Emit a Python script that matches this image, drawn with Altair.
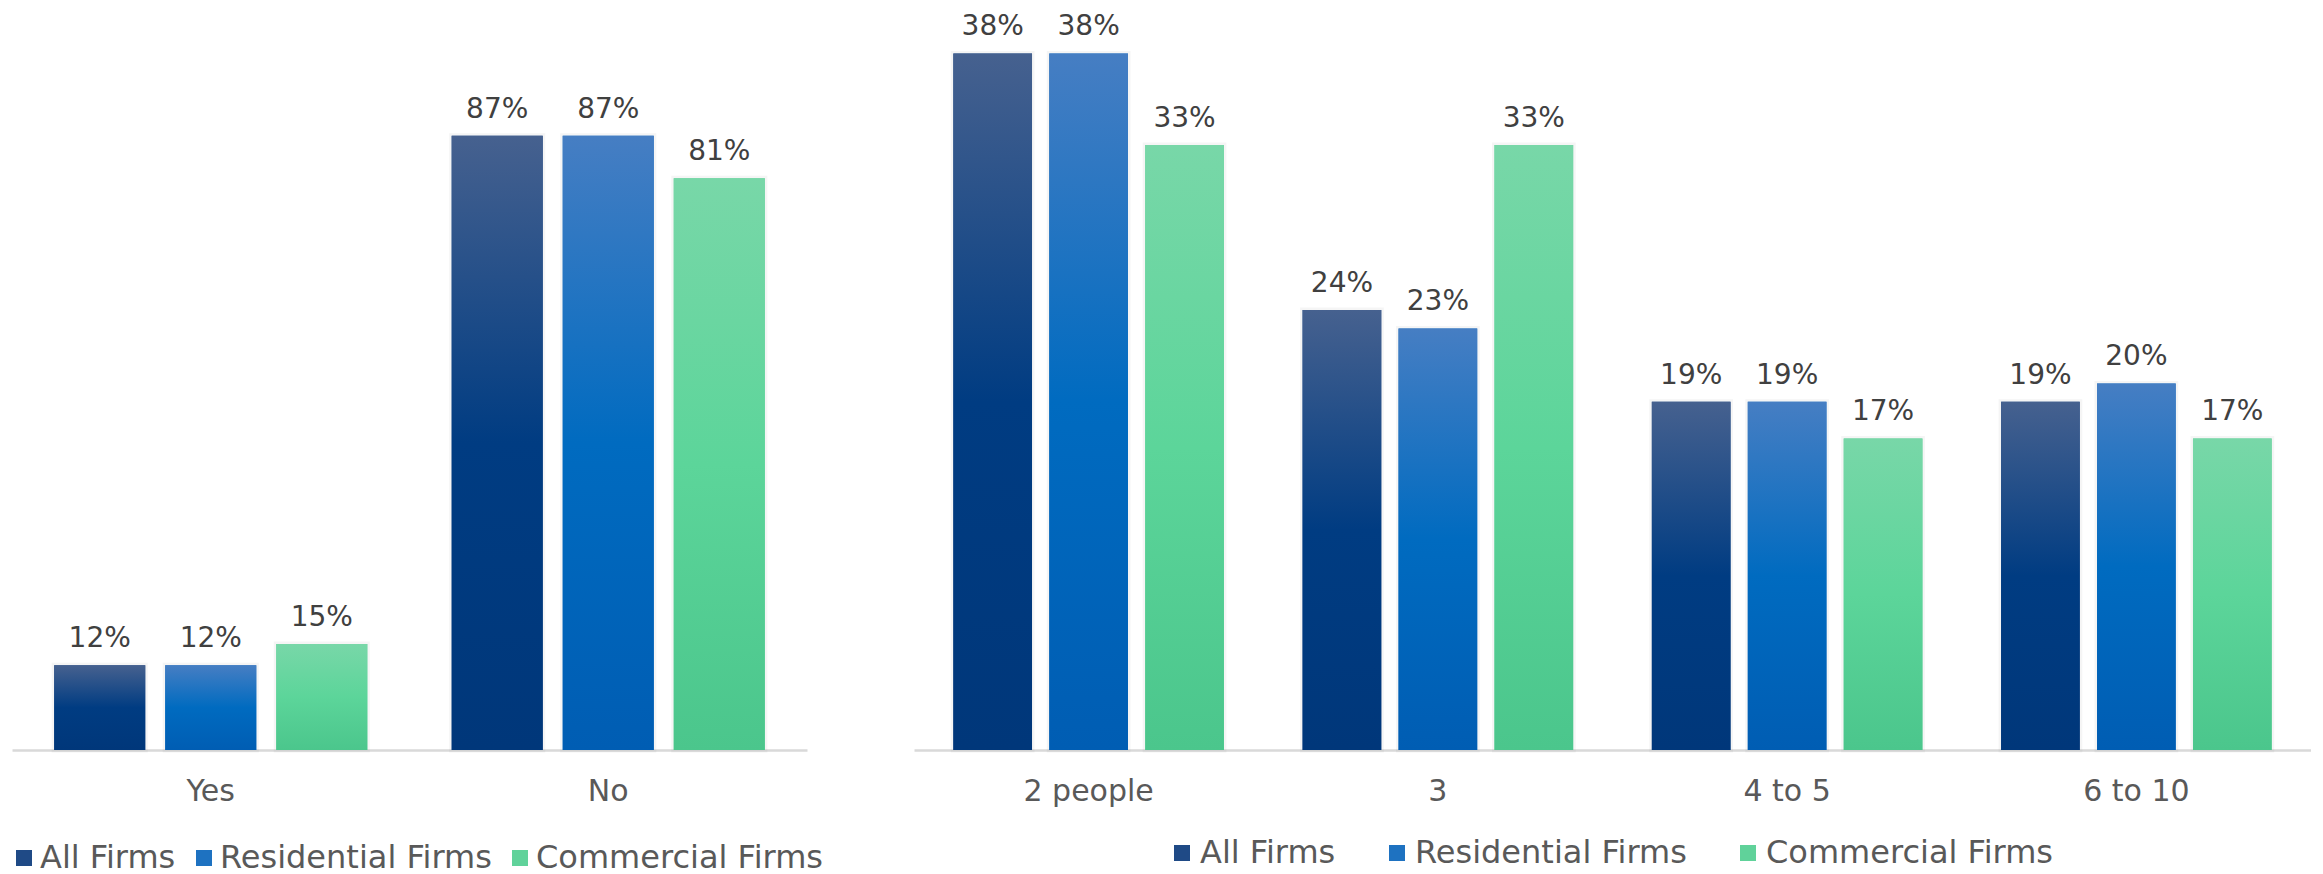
import altair as alt
import pandas as pd

# ---------------- data ----------------
series = ["All Firms", "Residential Firms", "Commercial Firms"]

left_categories = ["Yes", "No"]
left_all = [12, 87]
left_res = [12, 87]
left_com = [15, 81]

right_categories = ["2 people", "3", "4 to 5", "6 to 10"]
right_all = [38, 24, 19, 19]
right_res = [38, 23, 19, 20]
right_com = [33, 33, 17, 17]

# ---------------- styles ----------------
FONT = "DejaVu Sans"
solid_colors = ["#1F4A86", "#1E72C1", "#60D29A"]
gradient_stops = {
    "All Firms": [("#46618F", 0.0), ("#003C82", 0.5), ("#00377A", 1.0)],
    "Residential Firms": [("#467EC3", 0.0), ("#006BC0", 0.5), ("#005DB3", 1.0)],
    "Commercial Firms": [("#78D7A8", 0.0), ("#5CD59A", 0.5), ("#4BC68C", 1.0)],
}


def make_df(cats, vals_list):
    rows = []
    for s, vals in zip(series, vals_list):
        for c, v in zip(cats, vals):
            rows.append({"category": c, "series": s, "value": v, "label": f"{v}%"})
    return pd.DataFrame(rows)


def panel(df, cats, width, height, ymax, pad_outer, legend_x, legend_y,
          label_offset, col_pad):
    base = alt.Chart(df).encode(
        x=alt.X(
            "category:N",
            sort=cats,
            scale=alt.Scale(paddingInner=0, paddingOuter=0),
            axis=alt.Axis(
                title=None,
                labelAngle=0,
                ticks=False,
                tickSize=0,
                domainColor="#D9D9D9",
                domainWidth=2.5,
                labelFont=FONT,
                labelFontSize=30,
                labelColor="#595959",
                labelPadding=26,
                grid=False,
            ),
        ),
        xOffset=alt.XOffset(
            "series:N",
            sort=series,
            scale=alt.Scale(domain=series, paddingInner=0.18, paddingOuter=pad_outer),
        ),
        y=alt.Y(
            "value:Q",
            scale=alt.Scale(domain=[0, ymax], nice=False, zero=True),
            axis=None,
        ),
    )

    shadow = base.mark_bar(
        color="#000000", fillOpacity=0, stroke="#808080",
        strokeWidth=5, strokeOpacity=0.08,
    )

    solid_bars = base.mark_bar().encode(
        color=alt.Color(
            "series:N",
            sort=series,
            scale=alt.Scale(domain=series, range=solid_colors),
            legend=alt.Legend(
                orient="none",
                legendX=legend_x,
                legendY=legend_y,
                direction="horizontal",
                title=None,
                padding=0,
                symbolType="square",
                symbolSize=256,
                symbolStrokeWidth=0,
                labelFont=FONT,
                labelFontSize=32,
                labelColor="#595959",
                labelOffset=label_offset,
                labelLimit=500,
                columnPadding=col_pad,
            ),
        )
    )

    layers = [shadow, solid_bars]
    for s in series:
        grad = alt.Gradient(
            gradient="linear",
            stops=[alt.GradientStop(color=c, offset=o) for c, o in gradient_stops[s]],
            x1=0, x2=0, y1=0, y2=1,
        )
        layers.append(
            base.transform_filter(alt.datum.series == s).mark_bar(color=grad)
        )

    text = base.mark_text(
        baseline="alphabetic",
        dy=-18,
        font=FONT,
        fontSize=28,
        color="#404040",
    ).encode(text="label:N")
    layers.append(text)

    return alt.layer(*layers).properties(width=width, height=height)


left_df = make_df(left_categories, [left_all, left_res, left_com])
right_df = make_df(right_categories, [right_all, right_res, right_com])

H = 740
left = panel(left_df, left_categories, 795, H, H / 7.06, 0.38,
             legend_x=-4, legend_y=832, label_offset=0, col_pad=12)
right = panel(right_df, right_categories, 1397, H, H / 18.33, 0.41,
              legend_x=252, legend_y=827, label_offset=2, col_pad=45)

chart = (
    alt.hconcat(left, right, spacing=107, bounds="flush")
    .resolve_scale(color="independent", x="independent", y="independent",
                   xOffset="independent")
    .properties(padding={"left": 0, "top": 2, "right": 0, "bottom": 12},
                background="white")
    .configure_view(stroke=None)
)

chart.save("out.html", embed_options={"renderer": "svg", "actions": False})
